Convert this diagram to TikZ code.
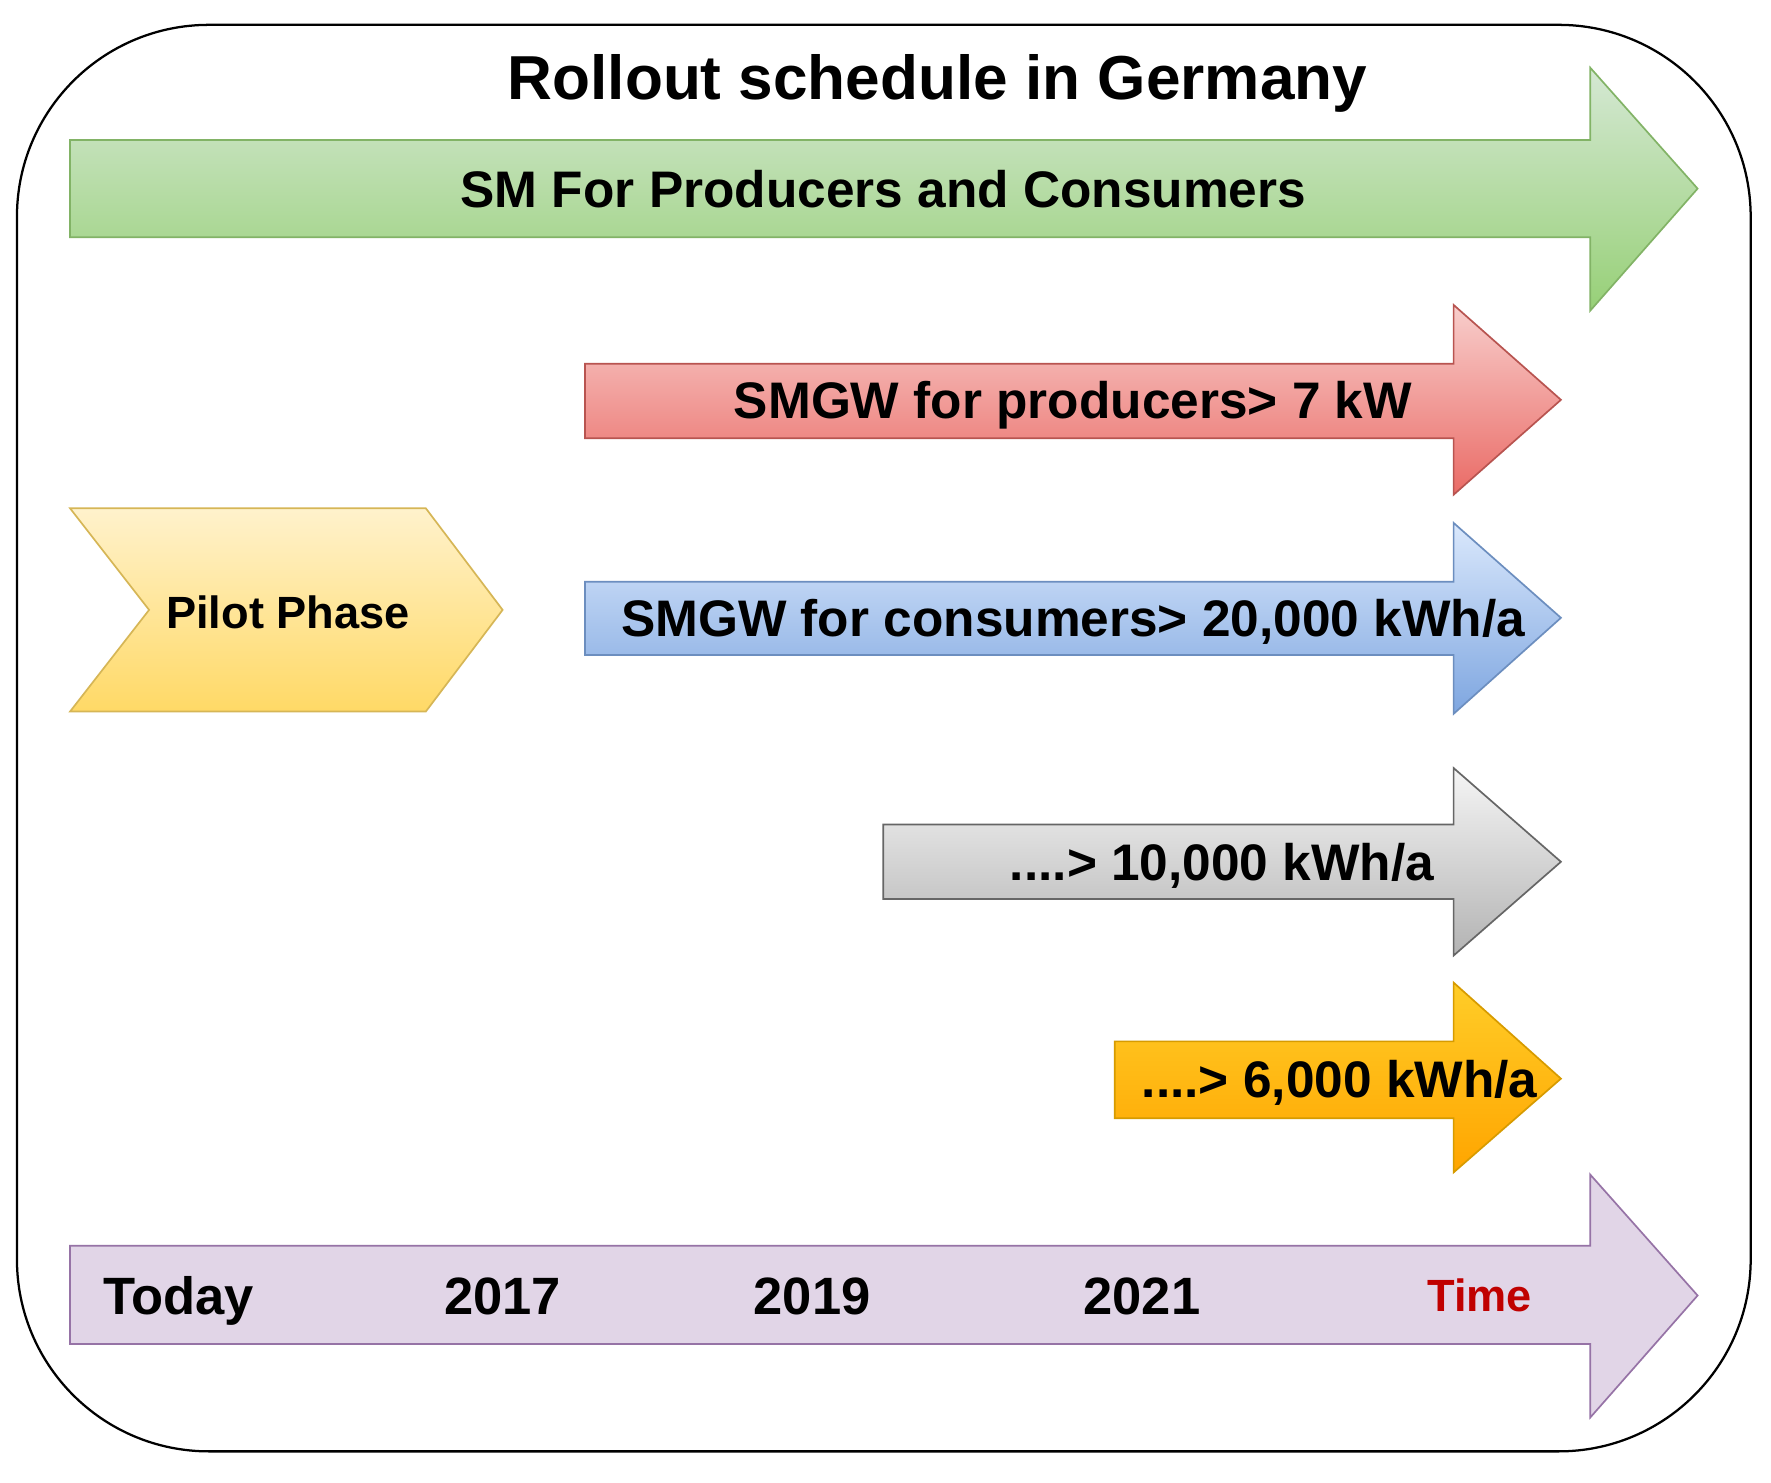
\documentclass[tikz,border=0pt]{standalone}
\usepackage{fontspec}
\setmainfont{Liberation Sans}
\definecolor{grT}{HTML}{D5E8D4}\definecolor{grB}{HTML}{97D077}\definecolor{grS}{HTML}{82B366}
\definecolor{rdT}{HTML}{F8CECC}\definecolor{rdB}{HTML}{EA6B66}\definecolor{rdS}{HTML}{B85450}
\definecolor{blT}{HTML}{DAE8FC}\definecolor{blB}{HTML}{7EA6E0}\definecolor{blS}{HTML}{6C8EBF}
\definecolor{gyT}{HTML}{F5F5F5}\definecolor{gyB}{HTML}{B3B3B3}\definecolor{gyS}{HTML}{666666}
\definecolor{orT}{HTML}{FFCD28}\definecolor{orB}{HTML}{FFA500}\definecolor{orS}{HTML}{D79B00}
\definecolor{ylT}{HTML}{FFF2CC}\definecolor{ylB}{HTML}{FFD966}\definecolor{ylS}{HTML}{D6B656}
\definecolor{puF}{HTML}{E1D5E7}\definecolor{puS}{HTML}{9673A6}
\definecolor{timeRed}{HTML}{C00000}
\begin{document}
\begin{tikzpicture}[x=1pt,y=-1pt,
  shp/.style={line width=1.5pt, line join=miter},
  lbl/.style={inner sep=0pt, text height=32.6pt, text depth=0pt, anchor=center,
    font=\fontsize{45.5}{50}\selectfont\bfseries},
  yr/.style={inner sep=0pt, text height=33.3pt, text depth=0pt, anchor=center,
    font=\fontsize{46.5}{50}\selectfont\bfseries},
  small/.style={inner sep=0pt, text height=28.6pt, text depth=0pt, anchor=center,
    font=\fontsize{40}{44}\selectfont\bfseries},
  ttl/.style={inner sep=0pt, text height=39.4pt, text depth=0pt, anchor=center,
    font=\fontsize{55}{60}\selectfont\bfseries}]
\useasboundingbox (0,0) rectangle (1568,1313);
\fill[white] (0,0) rectangle (1568,1313);
% outer frame
\draw[line width=2pt, rounded corners=170] (15,22) rectangle (1550,1285);
% title
\node[ttl] (title) at (830,68) {Rollout schedule in Germany};
% green
\draw[shp, draw=grS, top color=grT, bottom color=grB]
  (62,124) -- (1408,124) -- (1408,60) -- (1503,167) -- (1408,275) -- (1408,210) -- (62,210) -- cycle;
\node[lbl] (green) at (782,167) {SM For Producers and Consumers};
% red
\draw[shp, draw=rdS, top color=rdT, bottom color=rdB]
  (518,322) -- (1287,322) -- (1287,270) -- (1382,354) -- (1287,438) -- (1287,388) -- (518,388) -- cycle;
\node[lbl] (red) at (950,354) {SMGW for producers> 7 kW};
% pilot
\draw[shp, draw=ylS, top color=ylT, bottom color=ylB]
  (62,450) -- (377,450) -- (445,540) -- (377,630) -- (62,630) -- (132,540) -- cycle;
\node[small] (pilot) at (255,542) {Pilot Phase};
% blue
\draw[shp, draw=blS, top color=blT, bottom color=blB]
  (518,515) -- (1287,515) -- (1287,463) -- (1382,547) -- (1287,632) -- (1287,580) -- (518,580) -- cycle;
\node[lbl] (blue) at (950,547) {SMGW for consumers> 20,000 kWh/a};
% gray
\draw[shp, draw=gyS, top color=gyT, bottom color=gyB]
  (782,730) -- (1287,730) -- (1287,680) -- (1382,763) -- (1287,846) -- (1287,796) -- (782,796) -- cycle;
\node[lbl] (gray) at (1082,763) {....> 10,000 kWh/a};
% orange
\draw[shp, draw=orS, top color=orT, bottom color=orB]
  (987,922) -- (1287,922) -- (1287,870) -- (1382,955) -- (1287,1038) -- (1287,990) -- (987,990) -- cycle;
\node[lbl] (orange) at (1186,955) {....> 6,000 kWh/a};
% purple timeline
\draw[shp, draw=puS, fill=puF]
  (62,1103) -- (1408,1103) -- (1408,1040) -- (1503,1147) -- (1408,1255) -- (1408,1190) -- (62,1190) -- cycle;
\node[yr] (today) at (158,1147) {Today};
\node[yr] (y2017) at (445,1147) {2017};
\node[yr] (y2019) at (719,1147) {2019};
\node[yr] (y2021) at (1011,1147) {2021};
\node[small, text=timeRed] (time) at (1310,1147) {Time};
\end{tikzpicture}
\end{document}
